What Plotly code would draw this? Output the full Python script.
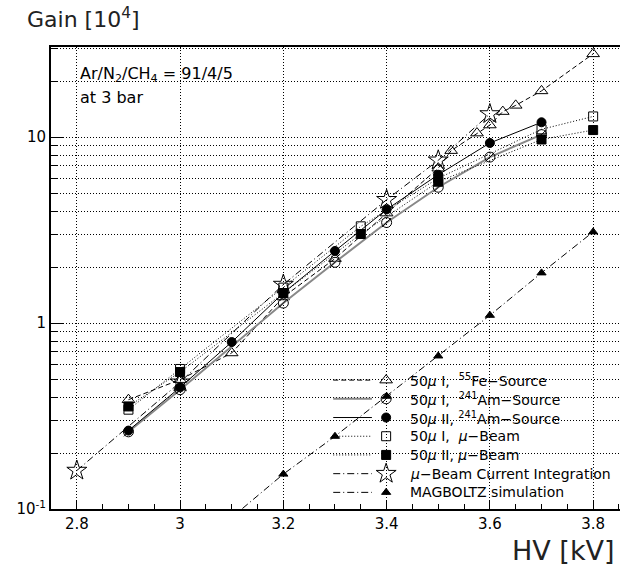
import math
import plotly.graph_objects as go

# ---- data ----
x_fe = [2.9, 3.0, 3.1, 3.2, 3.3, 3.4, 3.5, 3.525, 3.575, 3.6, 3.625, 3.65, 3.7, 3.8]
g_fe = [0.387, 0.496, 0.69, 1.38, 2.22, 3.9, 6.8, 8.45, 10.5, 11.6, 13.7, 14.8, 17.7, 28.0]

x_am1 = [2.9, 3.0, 3.2, 3.3, 3.4, 3.5, 3.6, 3.7]
g_am1 = [0.26, 0.438, 1.28, 2.12, 3.47, 5.37, 7.8, 10.3]

x_am2 = [2.9, 3.0, 3.1, 3.2, 3.3, 3.4, 3.5, 3.6, 3.7]
g_am2 = [0.264, 0.451, 0.79, 1.45, 2.44, 4.08, 6.27, 9.29, 12.0]

x_mu1 = [2.9, 3.0, 3.2, 3.35, 3.5, 3.7, 3.8]
g_mu1 = [0.342, 0.566, 1.55, 3.31, 6.0, 11.0, 12.9]

x_mu2 = [2.9, 3.0, 3.2, 3.35, 3.5, 3.7, 3.8]
g_mu2 = [0.356, 0.545, 1.45, 3.01, 5.75, 9.7, 10.9]

x_cur = [2.8, 3.0, 3.2, 3.4, 3.5, 3.6]
g_cur = [0.161, 0.48, 1.61, 4.6, 7.5, 13.3]

x_mag = [3.1, 3.2, 3.3, 3.4, 3.5, 3.6, 3.7, 3.8]
g_mag = [0.09, 0.154, 0.246, 0.404, 0.665, 1.10, 1.86, 3.09]

labels = [
    "50<i>μ</i> I,  <sup>55</sup>Fe−Source",
    "50<i>μ</i> I,  <sup>241</sup>Am−Source",
    "50<i>μ</i> II, <sup>241</sup>Am−Source",
    "50<i>μ</i> I,  <i>μ</i>−Beam",
    "50<i>μ</i> II, <i>μ</i>−Beam",
    "<i>μ</i>−Beam Current Integration",
    "MAGBOLTZ simulation",
]

x_ticks = [2.8, 3.0, 3.2, 3.4, 3.6, 3.8]
x_ticktext = ["2.8", "3", "3.2", "3.4", "3.6", "3.8"]
y_major = [0.1, 1, 10]
y_major_text = ["10<sup>-1</sup>", "1", "10"]
y_minor = [0.2, 0.3, 0.4, 0.5, 0.6, 0.7, 0.8, 0.9, 2, 3, 4, 5, 6, 7, 8, 9, 20, 30]

X_RANGE = [2.75, 3.852]
Y_RANGE_LOG = [-1, 1.484]

FONT = "DejaVu Sans"
DOT = "1px,2px"
DASHDOT = "7px,3px,1px,3px"

styles = [
    dict(symbol="triangle-up-open", size=11, dash="5px,3px", color="black", width=1),
    dict(symbol="circle-open", size=10, dash="solid", color="#888888", width=2),
    dict(symbol="circle", size=9, dash="solid", color="black", width=1),
    dict(symbol="square-open", size=9, dash=DOT, color="black", width=1),
    dict(symbol="square", size=9, dash=DOT, color="black", width=1),
    dict(symbol="star-open", size=15, dash=DASHDOT, color="black", width=1),
    dict(symbol="triangle-up", size=8, dash=DASHDOT, color="black", width=1),
]
series = [(x_fe, g_fe), (x_am1, g_am1), (x_am2, g_am2), (x_mu1, g_mu1),
          (x_mu2, g_mu2), (x_cur, g_cur), (x_mag, g_mag)]

fig = go.Figure()

for (xs, ys), st, lab in zip(series, styles, labels):
    fig.add_trace(go.Scatter(
        x=xs, y=ys, name=lab, mode="lines+markers", showlegend=False,
        line=dict(color=st["color"], width=st["width"], dash=st["dash"]),
        marker=dict(symbol=st["symbol"], size=st["size"], color="black",
                    line=dict(color="black", width=1)),
    ))

# slash inside the open circles of 50μ I 241Am
fig.add_trace(go.Scatter(x=x_am1, y=g_am1, mode="markers", showlegend=False,
                         marker=dict(symbol="line-ne", size=9, color="black",
                                     line=dict(color="black", width=1))))

# ---- hand-built legend (ROOT style: line sample, marker, text) ----
LEG_TOP = 0.279      # paper y of first row
LEG_STEP = 0.0405    # row spacing in paper units
LINE_X0, LINE_X1 = 0.496, 0.564
MARK_X = 0.589
TEXT_X = 0.627
rows = [LEG_TOP - i * LEG_STEP for i in range(len(labels))]


def paper_to_x(px):
    return X_RANGE[0] + px * (X_RANGE[1] - X_RANGE[0])


def paper_to_y(py):
    return 10 ** (Y_RANGE_LOG[0] + py * (Y_RANGE_LOG[1] - Y_RANGE_LOG[0]))


for st, lab, ry in zip(styles, labels, rows):
    fig.add_shape(type="line", xref="paper", yref="paper", x0=LINE_X0, x1=LINE_X1, y0=ry, y1=ry,
                  line=dict(color=st["color"], width=st["width"], dash=st["dash"]))
    fig.add_annotation(text=lab, xref="paper", yref="paper", x=TEXT_X, y=ry,
                       xanchor="left", yanchor="middle", showarrow=False,
                       font=dict(size=14, family=FONT))
    fig.add_trace(go.Scatter(
        x=[paper_to_x(MARK_X)], y=[paper_to_y(ry)], mode="markers", showlegend=False,
        marker=dict(symbol=st["symbol"], size=st["size"], color="black",
                    line=dict(color="black", width=1)),
        hoverinfo="skip",
    ))

fig.add_trace(go.Scatter(
    x=[paper_to_x(MARK_X)], y=[paper_to_y(rows[1])], mode="markers", showlegend=False,
    marker=dict(symbol="line-ne", size=9, color="black", line=dict(color="black", width=1)),
    hoverinfo="skip",
))

fig.update_layout(
    width=620, height=571,
    margin=dict(l=51, r=0, t=47, b=62),
    paper_bgcolor="white", plot_bgcolor="white",
    font=dict(family=FONT, color="black", size=15),
    showlegend=False,
)

fig.update_layout(yaxis=dict(
    type="log", range=Y_RANGE_LOG, tickvals=y_major, ticktext=y_major_text,
    ticks="inside", ticklen=12, tickwidth=1, tickcolor="black",
    showline=True, linecolor="black", linewidth=2, mirror=False,
    showgrid=True, gridcolor="black", gridwidth=1, griddash=DOT,
    zeroline=False, tickfont=dict(size=15, family=FONT),
    minor=dict(tickmode="array", tickvals=y_minor, ticks="inside", ticklen=6, tickcolor="black",
               showgrid=True, gridcolor="black", gridwidth=1, griddash=DOT),
))
fig.update_layout(xaxis=dict(
    range=X_RANGE, tickvals=x_ticks, ticktext=x_ticktext,
    ticks="inside", ticklen=9, tickwidth=1, tickcolor="black",
    showline=True, linecolor="black", linewidth=2, mirror=True,
    showgrid=True, gridcolor="black", gridwidth=1, griddash=DOT,
    zeroline=False, tickfont=dict(size=15, family=FONT),
    minor=dict(dtick=0.05, tick0=2.8, ticks="inside", ticklen=5, tickcolor="black", showgrid=False),
))

fig.add_annotation(text="Gain [10<sup>4</sup>]", xref="paper", yref="paper", x=-0.045, y=1.062,
                   xanchor="left", yanchor="middle", showarrow=False,
                   font=dict(size=22, family=FONT, color="#222"))
fig.add_annotation(text="HV [kV]", xref="paper", yref="paper", x=0.995, y=-0.09,
                   xanchor="right", yanchor="middle", showarrow=False,
                   font=dict(size=27, family=FONT, color="#222"))
fig.add_annotation(text="Ar/N<sub>2</sub>/CH<sub>4</sub> = 91/4/5", xref="paper", yref="paper",
                   x=0.047, y=0.94, xanchor="left", yanchor="middle", showarrow=False,
                   font=dict(size=16, family=FONT))
fig.add_annotation(text="at 3 bar", xref="paper", yref="paper",
                   x=0.047, y=0.89, xanchor="left", yanchor="middle", showarrow=False,
                   font=dict(size=16, family=FONT))

fig.write_html("out.html")
